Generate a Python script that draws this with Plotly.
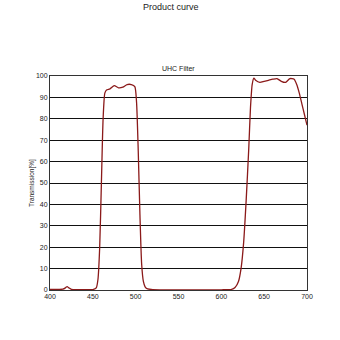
import plotly.graph_objects as go

wavelength = [400, 410, 415, 418, 420, 422, 425, 435, 450, 454, 456, 458, 460, 462, 464, 466, 470, 475, 480, 485, 490, 495, 499, 501,
              503, 505, 507, 509, 511, 514, 520, 550, 600, 612, 616, 620, 623, 626, 629, 632, 634, 636, 638, 640, 645, 650, 655,
              660, 665, 670, 675, 680, 685, 688, 691, 694, 697, 700]
transmission = [0.3, 0.3, 0.4, 1.0, 1.6, 1.0, 0.3, 0.2, 0.2, 1.0, 5, 20, 50, 80, 92, 93.5, 94, 95.5, 94.5, 94.8, 96, 96, 95, 88,
                65, 35, 12, 4, 1.5, 0.5, 0.2, 0.1, 0.1, 0.3, 1.2, 4, 10, 22, 42, 66, 85, 96, 99, 98, 97, 97.5, 98,
                98.5, 98.8, 97.5, 97, 98.8, 98.5, 96, 92, 87, 82, 77]

x_ticks = [400, 450, 500, 550, 600, 650, 700]
y_ticks = [0, 10, 20, 30, 40, 50, 60, 70, 80, 90, 100]

fig = go.Figure()
fig.add_trace(go.Scatter(x=wavelength, y=transmission, mode="lines",
                         line=dict(color="#8B1A1A", width=1.3, shape="spline", smoothing=0.6),
                         hoverinfo="skip"))

fig.update_layout(
    width=340, height=340,
    margin=dict(l=50, r=33, t=76, b=50),
    paper_bgcolor="white", plot_bgcolor="white",
    showlegend=False,
    font=dict(family="Liberation Sans, Arial, sans-serif", color="#222", size=7),
    annotations=[
        dict(text="Product curve", x=0.5, xref="paper", y=1, yref="paper", yshift=69,
             xanchor="center", yanchor="middle", showarrow=False, font=dict(size=9, color="#222"),
             xshift=-8),
        dict(text="UHC Filter", x=0.5, xref="paper", y=1, yref="paper", yshift=8,
             xanchor="center", yanchor="middle", showarrow=False, font=dict(size=7, color="#222")),
        dict(text="Transmission[%]", x=0, xref="paper", y=0.5, yref="paper", xshift=-18,
             textangle=-90, xanchor="center", yanchor="middle", showarrow=False,
             font=dict(size=6.5, color="#222")),
    ],
)
fig.update_xaxes(range=[400, 700], tickvals=x_ticks, showgrid=False, zeroline=False,
                 showline=True, linecolor="#333", linewidth=1, mirror=True,
                 ticks="", ticklen=0, tickfont=dict(size=7))
fig.update_yaxes(range=[0, 100], tickvals=y_ticks, showgrid=True, gridcolor="#111", gridwidth=1,
                 zeroline=False, showline=True, linecolor="#333", linewidth=1, mirror=True,
                 ticks="", tickfont=dict(size=7))

fig.write_html("out.html")
